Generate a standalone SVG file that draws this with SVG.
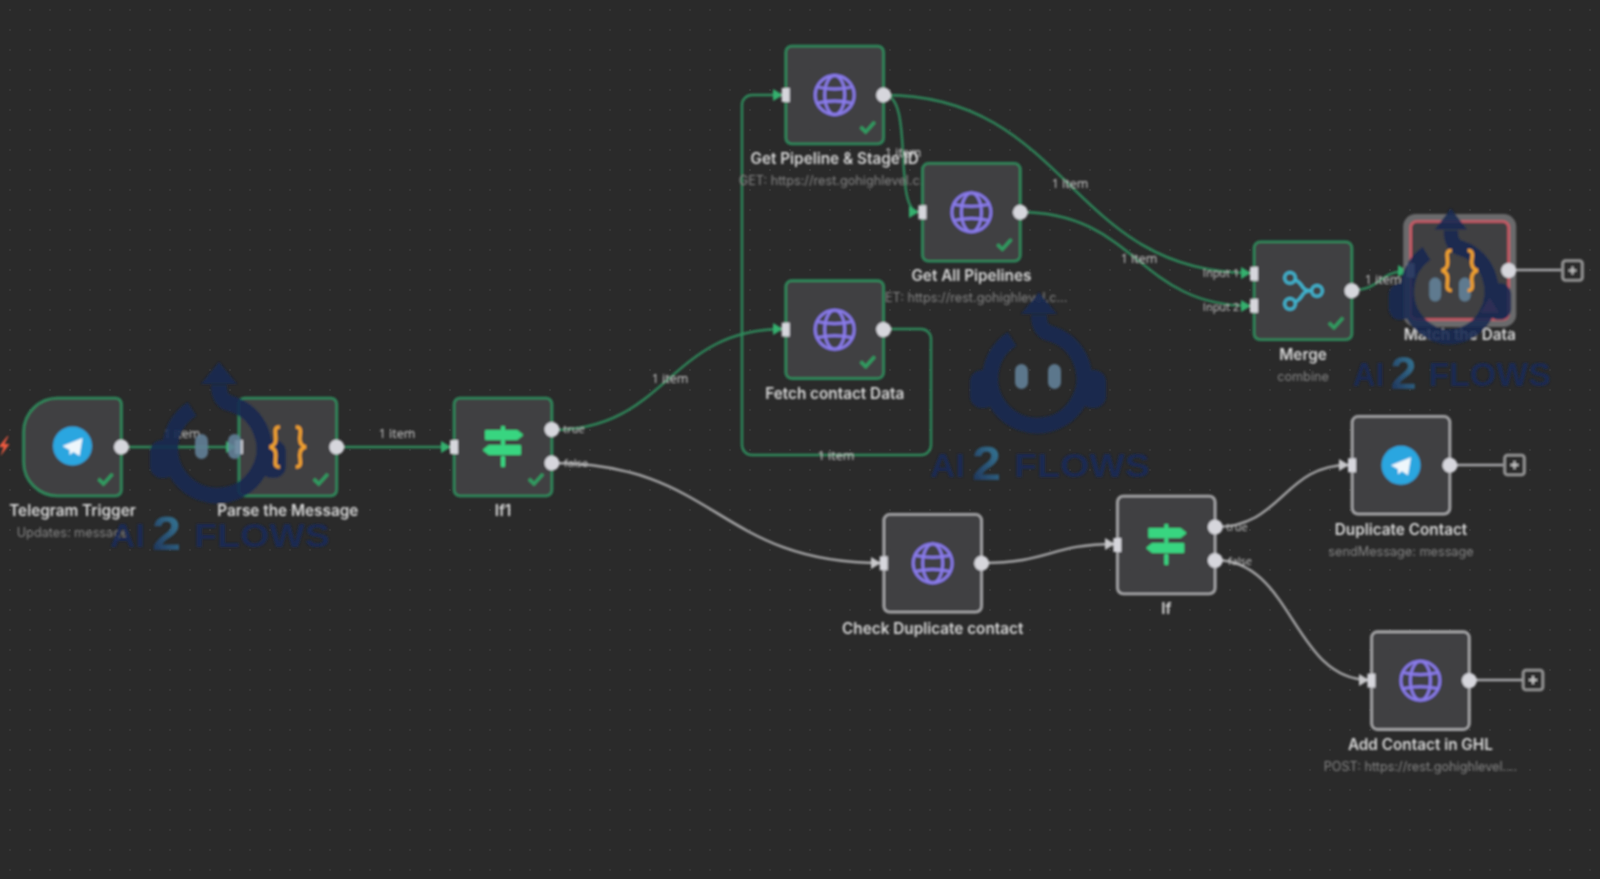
<svg xmlns="http://www.w3.org/2000/svg" width="1600" height="879" viewBox="0 0 1600 879">
<style>
.bg{fill:#2a2a2a}
.box{fill:#404042;stroke-width:2.6}
.ok{stroke:#2f8a5c}
.idle{stroke:#a8a8aa}
.err{stroke:#c85a66}
.title{font:600 15.3px Inter,"Liberation Sans",sans-serif;fill:#d8d8d8;text-anchor:middle}
.sub{font:400 12.7px Inter,"Liberation Sans",sans-serif;fill:#868686;text-anchor:middle}
.lbl{font:400 12.5px "Open Sans","Liberation Sans",sans-serif;fill:#cccccc;text-anchor:middle}
.port{font:400 11px "Open Sans","Liberation Sans",sans-serif;fill:#cacaca;text-anchor:middle}
.c{fill:none;stroke-width:2.4}
.g{stroke:#2f8a5c}
.w{stroke:#a9a9aa}
.dot{fill:#d6d6dc}
.in{fill:#d6d6dc}
.chk{fill:none;stroke:#2f9e62;stroke-width:3.2}
.plus{fill:#2a2a2a;stroke:#9a9a9a;stroke-width:2.6}
.pl{stroke:#c4c4c4;stroke-width:2}
.wm{font-family:"Liberation Sans",sans-serif;font-weight:700}
</style>
<defs>
<pattern id="grid" width="20" height="20" patternUnits="userSpaceOnUse"><circle cx="10" cy="10" r="0.9" fill="#3a3a3a"/></pattern>
<filter id="soft" filterUnits="userSpaceOnUse" x="0" y="0" width="1600" height="879"><feGaussianBlur stdDeviation="0.9"/></filter>
<marker id="ag" markerUnits="userSpaceOnUse" markerWidth="13" markerHeight="14" refX="11" refY="7" orient="auto"><path d="M1,1L11,7L1,13z" fill="#35b06e"/></marker>
<marker id="aw" markerUnits="userSpaceOnUse" markerWidth="13" markerHeight="14" refX="11" refY="7" orient="auto"><path d="M1,1L11,7L1,13z" fill="#c8c8ca"/></marker>
<linearGradient id="two" x1="0" y1="1" x2="1" y2="0"><stop offset="0" stop-color="#1a2c58"/><stop offset="1" stop-color="#3d8fb0"/></linearGradient>
<g id="globe" fill="none" stroke="#8a7bec" stroke-width="2.8">
<circle r="19.5"/><ellipse rx="10" ry="19.5"/><path d="M-17,-8Q0,-4 17,-8M-17,8Q0,4 17,8"/>
</g>
<g id="tg">
<circle r="19.5" fill="#2ca6e0"/><path d="M-10,0L10,-8L7,10L1,6L-3,9L-3,4L-10,0z" fill="#eef6fb"/>
</g>
<path id="code" fill="none" stroke="#f0a02f" stroke-width="3.4" d="M-8,-20C-15,-20 -12,-14 -12,-8C-12,-3 -14,-1 -18,0C-14,1 -12,3 -12,8C-12,14 -15,20 -8,20M8,-20C15,-20 12,-14 12,-8C12,-3 14,-1 18,0C14,1 12,3 12,8C12,14 15,20 8,20"/>
<g id="ifi" fill="#38d580" stroke="#38d580" stroke-width="2" stroke-linejoin="round">
<rect x="-1" y="-20" width="2" height="3"/><rect x="-1" y="-6" width="2" height="3"/><rect x="-1" y="10" width="2" height="9"/>
<path d="M-17,-16H14L19,-12L14,-8H-17z"/><path d="M17,-1H-14L-19,3L-14,7H17z"/>
</g>
<g id="mrg" fill="none" stroke="#3fb5d0" stroke-width="3">
<circle cx="-13" cy="-13" r="5.4"/><circle cx="-13" cy="13" r="5.4"/><circle cx="14" cy="0" r="5.4"/>
<path d="M-8,-11C1,-8 -3,0 8,0C-3,0 1,8 -8,11"/>
</g>
<g id="logo">
<g opacity="0.88">
<path d="M-26,-40A47,47 0 1 0 14,-45C4,-47 1,-53 1,-64" fill="none" stroke="#172a52" stroke-width="16"/>
<path d="M1,-87L19,-65H-17z" fill="#172a52"/>
<rect x="-68" y="-9" width="26" height="38" rx="12" fill="#172a52"/><rect x="42" y="-9" width="26" height="38" rx="12" fill="#172a52"/>
<rect x="-23" y="-15" width="13" height="25" rx="6.5" fill="#64829a"/><rect x="10" y="-15" width="13" height="25" rx="6.5" fill="#64829a"/>
<text class="wm" x="-108" y="98" font-size="34" fill="#182a58" textLength="35" lengthAdjust="spacingAndGlyphs">AI</text>
<text class="wm" x="-66" y="101" font-size="48" fill="url(#two)" textLength="29" lengthAdjust="spacingAndGlyphs">2</text>
<text class="wm" x="-24" y="98" font-size="34" fill="#182a58" textLength="136" lengthAdjust="spacingAndGlyphs">FLOWS</text>
</g>
</g>
</defs>
<rect class="bg" width="1600" height="879"/>
<rect fill="url(#grid)" width="1600" height="879"/>
<g filter="url(#soft)">
<g id="connectors">
<path class="c g" marker-end="url(#ag)" d="M121,447H236"/>
<path class="c g" marker-end="url(#ag)" d="M337,447H451"/>
<path class="c g" marker-end="url(#ag)" d="M552,430C668,430 668,329 783,329"/>
<path class="c g" marker-end="url(#ag)" d="M884,329H921A10,10 0 0 1 931,339V445A10,10 0 0 1 921,455H752A10,10 0 0 1 742,445V105A10,10 0 0 1 752,95H783"/>
<path class="c g" marker-end="url(#ag)" d="M884,95C915,95 892,212 919,212"/>
<path class="c g" marker-end="url(#ag)" d="M884,95C1069,95 1069,273 1251,273"/>
<path class="c g" marker-end="url(#ag)" d="M1019,212C1137,212 1137,306 1251,306"/>
<path class="c g" marker-end="url(#ag)" d="M1352,290C1382,290 1378,271 1408,271"/>
<path class="c w" marker-end="url(#aw)" d="M552,463C717,463 717,563 881,563"/>
<path class="c w" marker-end="url(#aw)" d="M982,563C1050,563 1050,544 1115,544"/>
<path class="c w" marker-end="url(#aw)" d="M1215,527C1283,527 1283,465 1349,465"/>
<path class="c w" marker-end="url(#aw)" d="M1215,560C1293,560 1293,680 1369,680"/>
<path class="c w" d="M1450,465H1503"/>
<path class="c w" d="M1469,680H1522"/>
<path class="c w" d="M1508,270H1561"/>
<text class="lbl" x="182" y="438">1 item</text>
<text class="lbl" x="397" y="438">1 item</text>
<text class="lbl" x="670" y="383">1 item</text>
<text class="lbl" x="836" y="460">1 item</text>
<text class="lbl" x="903" y="157">1 item</text>
<text class="lbl" x="1070" y="188">1 item</text>
<text class="lbl" x="1139" y="263">1 item</text>
<text class="lbl" x="1383" y="284">1 item</text>
<text class="port" x="574" y="433">true</text>
<text class="port" x="576" y="467">false</text>
<text class="port" x="1237" y="531">true</text>
<text class="port" x="1240" y="565">false</text>
<text class="port" x="1221" y="277">Input 1</text>
<text class="port" x="1221" y="311">Input 2</text>
</g>
<g id="n-telegram-trigger" transform="translate(23.5,398)">
<path d="M-16,38L-25,49L-20,49L-23,58L-14,46L-19,46L-15,38z" fill="#ee5a40"/>
<path class="box ok" d="M34,0H92A6,6 0 0 1 98,6V92A6,6 0 0 1 92,98H34A34,34 0 0 1 0,64V34A34,34 0 0 1 34,0z"/>
<use href="#tg" x="49" y="48"/><path class="chk" d="M75,81L80,86L89,76"/><circle class="dot" cx="98" cy="49" r="7.5"/>
<text class="title" x="49" y="118">Telegram Trigger</text><text class="sub" x="49" y="139">Updates: message</text>
</g>
<g id="n-parse" transform="translate(238.8,398)">
<rect class="box ok" width="98" height="98" rx="6"/><rect class="in" x="-4" y="42" width="8" height="14"/>
<path class="chk" d="M75,81L80,86L89,76"/><circle class="dot" cx="98" cy="49" r="7.5"/>
<text class="title" x="49" y="118">Parse the Message</text>
</g>
<g id="n-if1" transform="translate(454,398)">
<rect class="box ok" width="98" height="98" rx="6"/><rect class="in" x="-4" y="42" width="8" height="14"/>
<use href="#ifi" x="49" y="49"/><path class="chk" d="M75,81L80,86L89,76"/><circle class="dot" cx="98" cy="31.5" r="7.5"/><circle class="dot" cx="98" cy="65" r="7.5"/>
<text class="title" x="49" y="118">If1</text>
</g>
<g id="n-get-pipeline" transform="translate(785.7,46)">
<rect class="box ok" width="98" height="98" rx="6"/><rect class="in" x="-4" y="42" width="8" height="14"/>
<use href="#globe" x="49" y="49"/><path class="chk" d="M75,81L80,86L89,76"/><circle class="dot" cx="98" cy="49" r="7.5"/>
<text class="title" x="49" y="118">Get Pipeline &amp; Stage ID</text><text class="sub" x="49" y="139">GET: https://rest.gohighlevel.c...</text>
</g>
<g id="n-get-all" transform="translate(922.4,163.3)">
<rect class="box ok" width="98" height="98" rx="6"/><rect class="in" x="-4" y="42" width="8" height="14"/>
<use href="#globe" x="49" y="49"/><path class="chk" d="M75,81L80,86L89,76"/><circle class="dot" cx="98" cy="49" r="7.5"/>
<text class="title" x="49" y="118">Get All Pipelines</text><text class="sub" x="49" y="139">GET: https://rest.gohighlevel.c...</text>
</g>
<g id="n-fetch" transform="translate(785.7,280.6)">
<rect class="box ok" width="98" height="98" rx="6"/><rect class="in" x="-4" y="42" width="8" height="14"/>
<use href="#globe" x="49" y="49"/><path class="chk" d="M75,81L80,86L89,76"/><circle class="dot" cx="98" cy="49" r="7.5"/>
<text class="title" x="49" y="118">Fetch contact Data</text>
</g>
<g id="n-merge" transform="translate(1254,241.8)">
<rect class="box ok" width="98" height="98" rx="6"/><rect class="in" x="-4" y="25" width="8" height="14"/><rect class="in" x="-4" y="57" width="8" height="14"/>
<use href="#mrg" x="49" y="49"/><path class="chk" d="M75,81L80,86L89,76"/><circle class="dot" cx="98" cy="49" r="7.5"/>
<text class="title" x="49" y="118">Merge</text><text class="sub" x="49" y="139">combine</text>
</g>
<g id="n-match" transform="translate(1410.7,221.5)">
<rect x="-4" y="-4" width="106" height="106" rx="9" fill="none" stroke="#6a6a6c" stroke-width="7"/>
<rect class="box err" width="98" height="98" rx="6"/><rect class="in" x="-4" y="42" width="8" height="14"/>
<path d="M79,76L88,91H70z" fill="#d95a6c"/><circle class="dot" cx="98" cy="49" r="7.5"/>
<text class="title" x="49" y="118">Match the Data</text>
</g>
<g id="n-check-dup" transform="translate(883.7,514.3)">
<rect class="box idle" width="98" height="98" rx="6"/><rect class="in" x="-4" y="42" width="8" height="14"/>
<use href="#globe" x="49" y="49"/><circle class="dot" cx="98" cy="49" r="7.5"/>
<text class="title" x="49" y="120">Check Duplicate contact</text>
</g>
<g id="n-if" transform="translate(1117.3,496)">
<rect class="box idle" width="98" height="98" rx="6"/><rect class="in" x="-4" y="42" width="8" height="14"/>
<use href="#ifi" x="49" y="49"/><circle class="dot" cx="98" cy="31" r="7.5"/><circle class="dot" cx="98" cy="64.5" r="7.5"/>
<text class="title" x="49" y="118">If</text>
</g>
<g id="n-duplicate" transform="translate(1352,416.3)">
<rect class="box idle" width="98" height="98" rx="6"/><rect class="in" x="-4" y="42" width="8" height="14"/>
<use href="#tg" x="49" y="49"/><circle class="dot" cx="98" cy="49" r="7.5"/>
<text class="title" x="49" y="119">Duplicate Contact</text><text class="sub" x="49" y="140">sendMessage: message</text>
</g>
<g id="n-add" transform="translate(1371.4,631.6)">
<rect class="box idle" width="98" height="98" rx="6"/><rect class="in" x="-4" y="42" width="8" height="14"/>
<use href="#globe" x="49" y="49"/><circle class="dot" cx="98" cy="49" r="7.5"/>
<text class="title" x="49" y="118">Add Contact in GHL</text><text class="sub" x="49" y="139">POST: https://rest.gohighlevel....</text>
</g>
<g id="plus-1" transform="translate(1514.5,465)"><rect class="plus" x="-10" y="-10" width="20" height="20" rx="3"/><path class="pl" d="M-4,0H4M0,-4V4"/></g>
<g id="plus-2" transform="translate(1533,680)"><rect class="plus" x="-10" y="-10" width="20" height="20" rx="3"/><path class="pl" d="M-4,0H4M0,-4V4"/></g>
<g id="plus-3" transform="translate(1572.5,270.5)"><rect class="plus" x="-10" y="-10" width="20" height="20" rx="3"/><path class="pl" d="M-4,0H4M0,-4V4"/></g>
<g id="watermarks">
<use href="#logo" transform="translate(218,449)"/>
<use href="#logo" transform="translate(1038,379)"/>
<use href="#logo" transform="translate(1450,292) scale(0.9,0.96)"/>
</g>
<g id="code-icons">
<use href="#code" x="287.8" y="447"/>
<use href="#code" x="1459.7" y="270.5"/>
</g>
</g>
</svg>
